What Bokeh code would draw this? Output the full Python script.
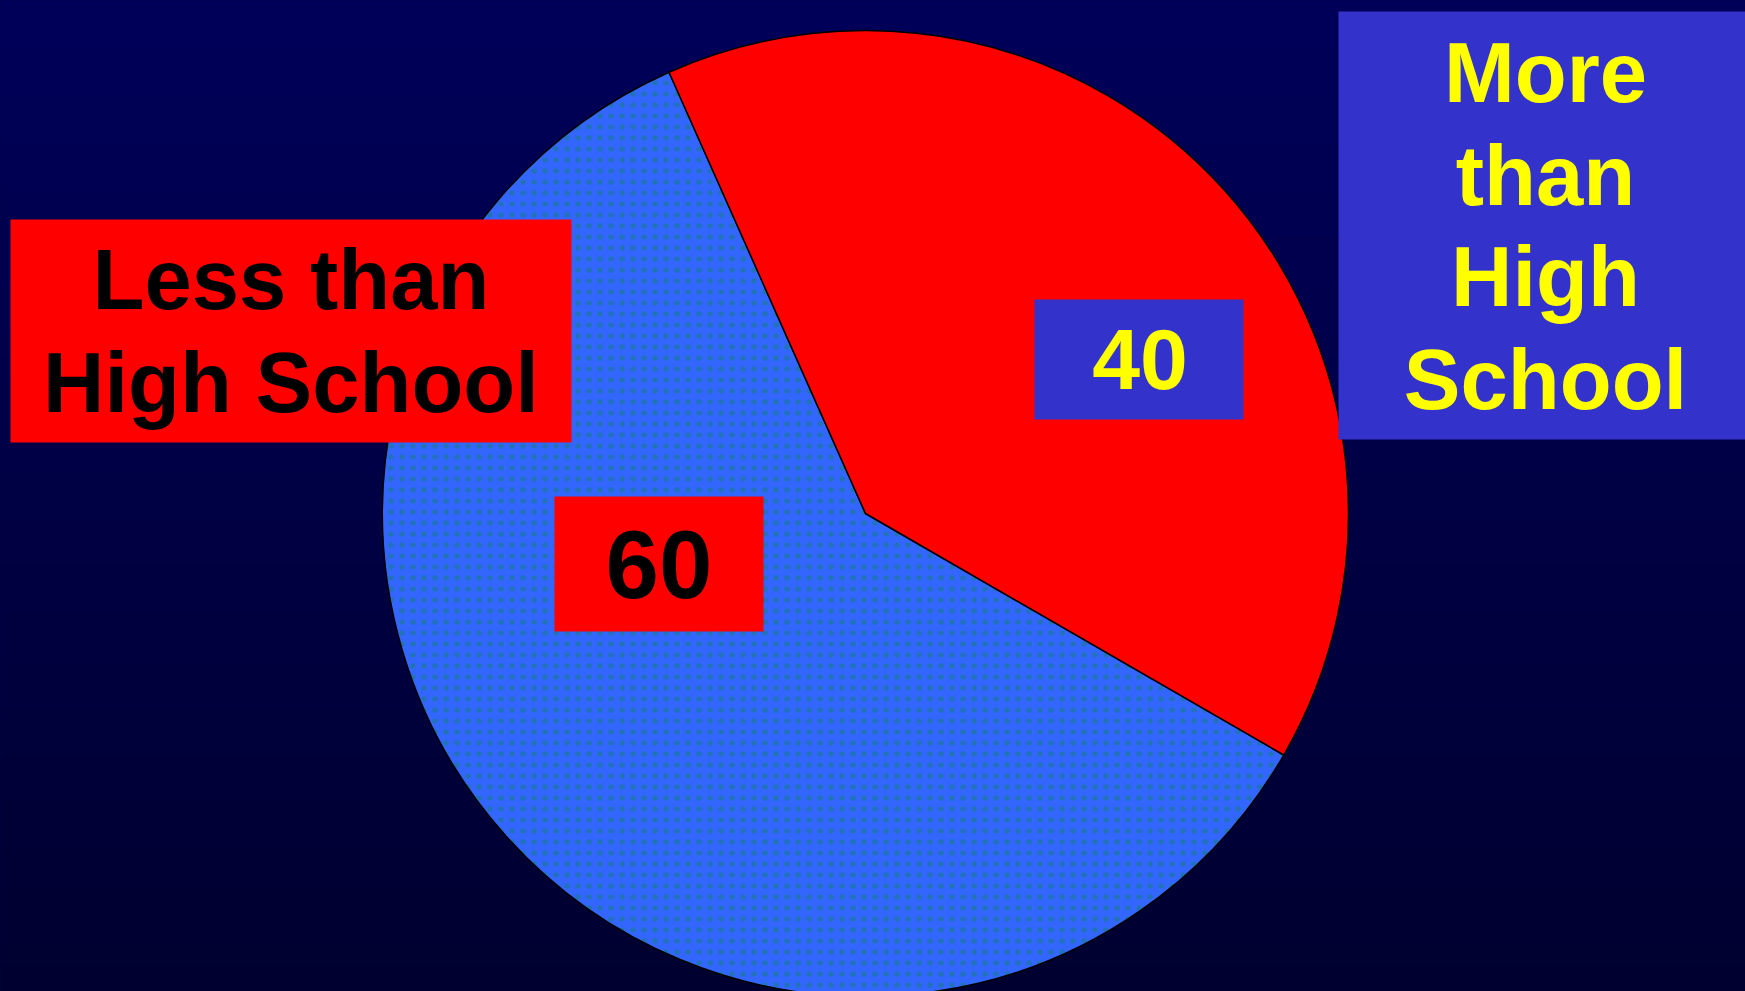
import numpy as np
from jinja2 import Template
from bokeh.plotting import figure
from bokeh.models import Range1d
from bokeh.core.properties import value
from bokeh.embed import file_html
from bokeh.resources import INLINE

# ---- data ----
categories = ["Less than High School", "More than High School"]
values = [60, 40]
label_lines = [["Less than", "High School"], ["More", "than", "High", "School"]]

# ---- styles ----
slice_colors = ["#3366FF", "#FF0000"]
box_colors = ["#FF0000", "#3333CC"]
text_colors = ["#000000", "#FFFF00"]
FONT = value("Liberation Sans")

W, H = 1745, 991
p = figure(width=W, height=H, output_backend="svg", toolbar_location=None,
           x_range=Range1d(0, W), y_range=Range1d(0, H),
           min_border=0, outline_line_color=None)
p.axis.visible = False
p.grid.visible = False
p.background_fill_color = "#000048"
p.border_fill_color = "#000048"

# background gradient
n = 256
t = np.linspace(0, 1, n)
top = np.array([0, 0, 0x5A]); bot = np.array([0, 0, 0x30])
img = np.zeros((n, 1), dtype=np.uint32)
view = img.view(dtype=np.uint8).reshape((n, 1, 4))
for i in range(n):
    c = bot + (top - bot) * t[i]
    view[i, 0, 0] = int(c[0]); view[i, 0, 1] = int(c[1]); view[i, 0, 2] = int(c[2]); view[i, 0, 3] = 255
p.image_rgba(image=[img], x=0, y=0, dw=W, dh=H)

# pie
cx, cy, r = 865, H - 513, 483
start_offset = 114.0
total = float(sum(values))
bounds = start_offset + np.concatenate([[0], np.cumsum(values)]) / total * 360.0
starts = np.deg2rad(bounds[:-1]); ends = np.deg2rad(bounds[1:])
p.wedge(x=cx, y=cy, radius=r, start_angle=starts[0], end_angle=ends[0],
        fill_color=slice_colors[0], line_color="black", line_width=1.5,
        hatch_pattern="dot", hatch_color="#1A789C", hatch_scale=11, hatch_weight=1,
        hatch_alpha=0.7)
p.wedge(x=cx, y=cy, radius=r, start_angle=starts[1], end_angle=ends[1],
        fill_color=slice_colors[1], line_color="black", line_width=1.5)

def yy(v):
    return H - v

def put_text(x, base, txt, size, color):
    # alphabetic baseline correction (empirical for svg text placement)
    p.text(x=[x], y=[yy(base) + 0.4 * size], text=[txt], text_font=FONT, text_font_style="bold",
           text_font_size=f"{size}px", text_color=color, text_align="center",
           text_baseline="alphabetic")

# Less than High School box
p.quad(left=10, right=571, top=yy(219), bottom=yy(442), fill_color=box_colors[0], line_color=None)
for line, base in zip(label_lines[0], [313, 416]):
    put_text(290.5, base, line, 85, text_colors[0])

# More than High School box
p.quad(left=1338, right=1770, top=yy(11), bottom=yy(439), fill_color=box_colors[1], line_color=None)
for line, base in zip(label_lines[1], [106, 208.5, 310, 413]):
    put_text(1545, base, line, 85, text_colors[1])

# value boxes
p.quad(left=554, right=763, top=yy(496), bottom=yy(631), fill_color=box_colors[0], line_color=None)
put_text(658.5, 602, str(values[0]), 96, text_colors[0])

p.quad(left=1034, right=1243, top=yy(299), bottom=yy(419), fill_color=box_colors[1], line_color=None)
put_text(1139.5, 393, str(values[1]), 86, text_colors[1])

template = Template("""{% extends base %}
{% block preamble %}<style>html,body{background:linear-gradient(#00005A,#000030);min-height:100%;}</style>{% endblock %}
""")

open("out.html", "w").write(file_html(p, INLINE, template=template))
